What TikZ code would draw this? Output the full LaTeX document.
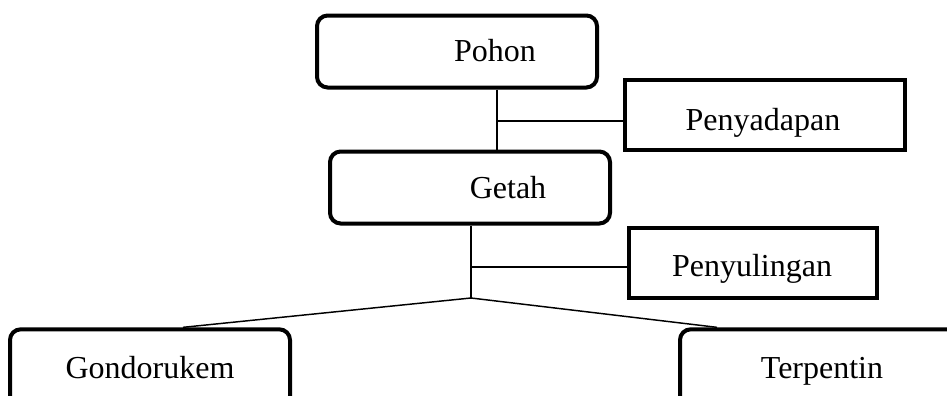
\documentclass[tikz,border=0pt]{standalone}
\usepackage{fontspec}
\setmainfont{Liberation Serif}
\usetikzlibrary{calc}

\begin{document}
\begin{tikzpicture}[x=0.75pt, y=-0.75pt, font=\fontsize{24pt}{28pt}\selectfont,
  roundblock/.style={rectangle, draw, line width=3pt, rounded corners=8pt, minimum width=210pt, minimum height=54pt},
  block/.style={rectangle, draw, line width=3pt, minimum width=210pt, minimum height=53pt},
  caption/.style={anchor=base, inner sep=0pt},
  link/.style={line width=1.1pt}]

  \clip (0,0) rectangle (947,396);

  \node[roundblock] (pohon) at (457,51.5) {};
  \node[caption] (pohontext) at (495,61) {Pohon};
  \node[roundblock] (getah) at (470,187.5) {};
  \node[caption] (getahtext) at (508,198) {Getah};
  \node[block] (penyadapan) at (765,115) {};
  \node[caption] (penyadapantext) at (763,130) {Penyadapan};
  \node[block, minimum width=186pt] (penyulingan) at (753,263) {};
  \node[caption] (penyulingantext) at (752,276) {Penyulingan};
  \node[roundblock, minimum height=58pt] (gondorukem) at (150,368) {};
  \node[caption] (gondorukemtext) at (150,378) {Gondorukem};
  \node[roundblock, minimum height=58pt] (terpentin) at (820,368) {};
  \node[caption] (terpentintext) at (822,378) {Terpentin};

  \coordinate (tapfork) at (497,121);
  \coordinate (distfork) at (471,267);
  \coordinate (split) at (471,298);

  \draw[link] (pohon.south -| tapfork) -- (getah.north -| tapfork);
  \draw[link] (tapfork) -- (penyadapan.west |- tapfork);
  \draw[link] (getah.south -| split) -- (split);
  \draw[link] (distfork) -- (penyulingan.west |- distfork);
  \draw[link] (split) -- ($(gondorukem.north)+(33,0)$);
  \draw[link] (split) -- ($(terpentin.north)+(-103,0)$);
\end{tikzpicture}
\end{document}
